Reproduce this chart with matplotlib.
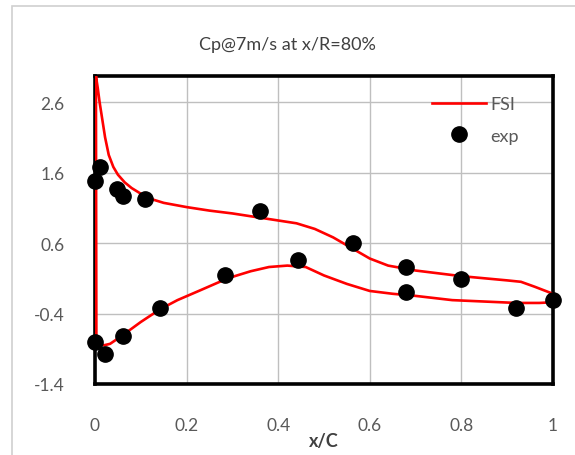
import matplotlib.pyplot as plt
from matplotlib.patches import Rectangle
from matplotlib.lines import Line2D

plt.rcParams['font.family'] = ['Lato', 'DejaVu Sans']
plt.rcParams['axes.unicode_minus'] = False

# FSI result, upper side (leading edge -> trailing edge)
fsi_up_x = [0.002, 0.006, 0.01, 0.016, 0.022, 0.03, 0.04, 0.05, 0.065, 0.08, 0.1, 0.12, 0.15,
            0.2, 0.25, 0.3, 0.35, 0.4, 0.44, 0.48, 0.52, 0.56, 0.6, 0.64, 0.7, 0.75, 0.8,
            0.85, 0.9, 0.93, 0.96, 1.0]
fsi_up_y = [2.97, 2.8, 2.6, 2.35, 2.1, 1.85, 1.68, 1.57, 1.46, 1.38, 1.3, 1.23, 1.17,
            1.11, 1.06, 1.02, 0.97, 0.92, 0.88, 0.80, 0.68, 0.53, 0.38, 0.28, 0.21, 0.17, 0.13,
            0.10, 0.07, 0.05, -0.02, -0.12]
# FSI result, lower side
fsi_lo_x = [0.003, 0.01, 0.02, 0.033, 0.06, 0.1, 0.142, 0.18, 0.23, 0.29, 0.34, 0.38, 0.42,
            0.46, 0.5, 0.55, 0.6, 0.65, 0.7, 0.78, 0.85, 0.92, 0.97, 1.0]
fsi_lo_y = [-0.80, -0.84, -0.85, -0.83, -0.71, -0.52, -0.34, -0.21, -0.07, 0.10, 0.2, 0.26, 0.28,
            0.26, 0.14, 0.02, -0.08, -0.12, -0.15, -0.21, -0.23, -0.25, -0.25, -0.24]

# experiment
exp_x = [0.0, 0.011, 0.048, 0.062, 0.11, 0.36, 0.564, 0.68, 0.80, 1.0,
         0.0, 0.022, 0.062, 0.142, 0.284, 0.444, 0.68, 0.92]
exp_y = [1.48, 1.68, 1.37, 1.27, 1.22, 1.05, 0.60, 0.26, 0.09, -0.21,
         -0.80, -0.97, -0.72, -0.32, 0.15, 0.36, -0.10, -0.32]

W, H = 575, 456
fig = plt.figure(figsize=(W / 100, H / 100), dpi=100)
ax = fig.add_axes([95 / W, 1 - 385 / H, (553 - 95) / W, (385 - 77) / H])

# outer chart border
fig.patches.append(Rectangle((12 / W, -0.1), 1.2, 1.1 - 7 / H, transform=fig.transFigure,
                             fill=False, edgecolor='#d0d0d0', lw=1.2))

fsi_x = fsi_up_x[::-1] + fsi_lo_x
fsi_y = fsi_up_y[::-1] + fsi_lo_y
ax.plot(fsi_x, fsi_y, color='#ff0000', lw=1.9, zorder=3)
ax.plot(exp_x, exp_y, 'o', color='black', ms=11, zorder=4, clip_on=False)

ax.set_xlim(0, 1)
ax.set_ylim(-1.4, 2.97)
ax.set_xticks([0, 0.2, 0.4, 0.6, 0.8, 1])
ax.set_xticklabels(['0', '0.2', '0.4', '0.6', '0.8', '1'])
ax.set_yticks([-1.4, -0.4, 0.6, 1.6, 2.6])
ax.grid(True, color='#bfbfbf', lw=1.0)
ax.set_axisbelow(True)
ax.tick_params(length=0, labelsize=12.5, labelcolor='#595959')
ax.tick_params(axis='x', pad=24)
ax.tick_params(axis='y', pad=22)
for s in ax.spines.values():
    s.set_linewidth(2.6)
    s.set_color('black')

fig.text(0.5, 1 - 45 / H, 'Cp@7m/s at x/R=80%', ha='center', va='center',
         fontsize=13, color='#404040')
fig.text(324 / W, 1 - 442 / H, 'x/C', ha='center', va='center',
         fontsize=13, fontweight='bold', color='#404040')

handles = [Line2D([], [], color='#ff0000', lw=1.9),
           Line2D([], [], marker='o', ls='none', color='black', ms=11)]
fig.legend(handles, ['FSI', 'exp'], loc='center left', frameon=False,
           bbox_to_anchor=(423 / W, 1 - 121 / H), fontsize=13, labelcolor='#595959',
           handlelength=3.0, handletextpad=0.25, labelspacing=0.85, borderpad=0)

fig.savefig('out.png', dpi=100)
